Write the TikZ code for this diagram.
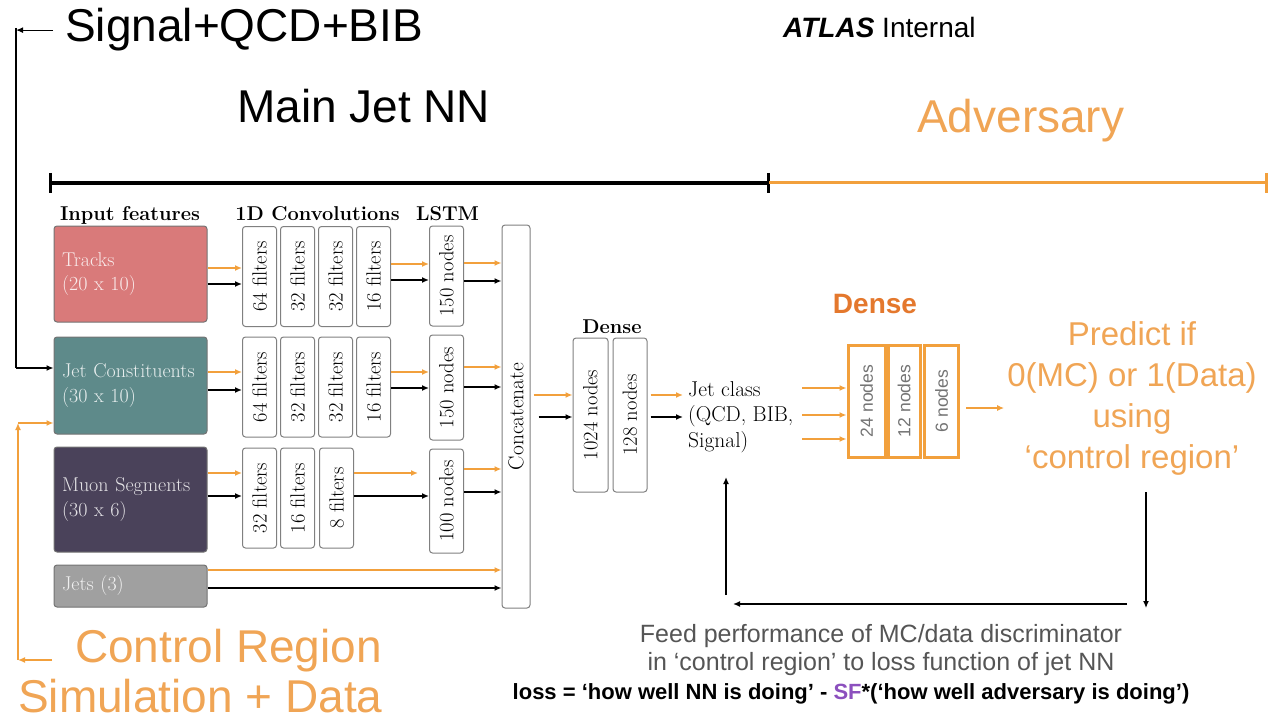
\documentclass[tikz,border=0pt]{standalone}
\usepackage{fontspec}
\newfontfamily\hel{Liberation Sans}
\usetikzlibrary{arrows.meta}
\definecolor{trkred}{RGB}{217,122,122}
\definecolor{jcteal}{RGB}{94,138,138}
\definecolor{muviolet}{RGB}{74,66,90}
\definecolor{jetgray}{RGB}{160,160,160}
\definecolor{advor}{RGB}{242,160,60}
\definecolor{advtext}{RGB}{240,165,85}
\definecolor{advhead}{RGB}{228,120,45}
\definecolor{feedgray}{RGB}{85,85,85}
\definecolor{sfpurple}{RGB}{140,80,190}
\newcommand\vlab[1]{\rotatebox{90}{#1}}
\begin{document}
\begin{tikzpicture}[x=1pt,y=-1pt,
  big/.style={font=\hel\fontsize{46}{50}\selectfont, inner sep=0pt, anchor=base west},
  hdr/.style={font=\bfseries\fontsize{20}{24}\selectfont, inner sep=0pt, anchor=base},
  inbox/.style={draw=black!55, line width=1pt, rounded corners=3pt, text width=137pt,
    align=left, inner xsep=8pt, inner ysep=0pt, text=white, text opacity=0.85,
    font=\fontsize{20}{24.5}\selectfont},
  layer/.style={draw=black!50, fill=white, line width=1pt, rounded corners=3pt,
    minimum width=34pt, inner sep=0pt, font=\fontsize{20.5}{22}\selectfont},
  advl/.style={draw=advor, line width=3pt, minimum width=34pt, minimum height=112pt,
    inner sep=0pt, text=black!55, font=\hel\fontsize{17.5}{20}\selectfont},
  barr/.style={draw=black, line width=1.6pt, -{Latex[length=7pt,width=6pt]}},
  oarr/.style={draw=advor, line width=1.4pt, -{Latex[length=7pt,width=6pt]}},
]
\useasboundingbox (0,0) rectangle (1276,722);

% titles
\node[big] (sig) at (65,42) {Signal+QCD+BIB};
\node[big] (mainnn) at (237,123) {Main Jet NN};
\node[big, text=advtext] (adv) at (917,133) {Adversary};
\node[big, text=advtext] (ctrl) at (75,662) {Control Region};
\node[big, text=advtext] (simdata) at (18,712) {Simulation + Data};
\node[anchor=base west, inner sep=0pt, font=\hel\fontsize{28}{30}\selectfont] (atlas) at (783,38) {\textbf{\textit{ATLAS}} Internal};

% span bars
\draw[line width=4pt] (50,183) -- (768,183);
\draw[line width=3pt] (50,173) -- (50,193);
\draw[line width=3pt] (768,173) -- (768,193);
\draw[advor, line width=3pt] (769,183) -- (1266,183);
\draw[advor, line width=3pt] (1266,173) -- (1266,193);

% column headers
\node[hdr] (hin) at (130,220) {Input features};
\node[hdr] (hconv) at (317.5,220) {1D Convolutions};
\node[hdr] (hlstm) at (447.5,220) {LSTM};
\node[hdr] (hdense) at (612,333) {Dense};
\node[anchor=base, inner sep=0pt, text=advhead, font=\hel\bfseries\fontsize{28}{30}\selectfont] (hadv) at (875,313) {Dense};

% input boxes
\node[inbox, fill=trkred, minimum height=96pt] (trk) at (130.5,274) {Tracks\\(20 x 10)};
\node[inbox, fill=jcteal, minimum height=97pt] (jc) at (130.5,385.5) {Jet Constituents\\(30 x 10)};
\node[inbox, fill=muviolet, minimum height=105pt] (mu) at (130.5,499.5) {Muon Segments\\(30 x 6)};
\node[inbox, fill=jetgray, minimum height=42pt] (jets) at (130.5,586) {Jets (3)};

% convolution layers
\node[layer, minimum height=100pt] (c11) at (259.5,276.5) {\vlab{64 filters}};
\node[layer, minimum height=100pt] (c12) at (297.5,276.5) {\vlab{32 filters}};
\node[layer, minimum height=100pt] (c13) at (335.5,276.5) {\vlab{32 filters}};
\node[layer, minimum height=100pt] (c14) at (373.5,276.5) {\vlab{16 filters}};
\node[layer, minimum height=100pt] (c21) at (259.5,387) {\vlab{64 filters}};
\node[layer, minimum height=100pt] (c22) at (297.5,387) {\vlab{32 filters}};
\node[layer, minimum height=100pt] (c23) at (335.5,387) {\vlab{32 filters}};
\node[layer, minimum height=100pt] (c24) at (373.5,387) {\vlab{16 filters}};
\node[layer, minimum height=100pt] (c31) at (259.5,498) {\vlab{32 filters}};
\node[layer, minimum height=100pt] (c32) at (297.5,498) {\vlab{16 filters}};
\node[layer, minimum height=100pt] (c33) at (336.5,498) {\vlab{8 filters}};

% LSTM layers
\node[layer, minimum height=100pt] (l1) at (446.5,276) {\vlab{150 nodes}};
\node[layer, minimum height=105pt] (l2) at (446.5,387.5) {\vlab{150 nodes}};
\node[layer, minimum height=104pt] (l3) at (446.5,501) {\vlab{100 nodes}};

% concatenation and dense layers
\node[layer, minimum width=28pt, minimum height=383pt, font=\fontsize{21.5}{22}\selectfont] (cat) at (516,416.5) {\vlab{Concatenate}};
\node[layer, minimum width=35pt, minimum height=154pt] (d1) at (590.5,415) {\vlab{1024 nodes}};
\node[layer, minimum height=154pt] (d2) at (630,415) {\vlab{128 nodes}};

\node[anchor=west, align=left, inner sep=0pt, font=\fontsize{21.5}{25.5}\selectfont] (jcls) at (688,417) {Jet class\\(QCD, BIB,\\Signal)};

% adversary layers
\node[advl, minimum width=37pt] (a1) at (866.5,401) {\vlab{24 nodes}};
\node[advl, minimum width=32pt] (a2) at (904,401) {\vlab{12 nodes}};
\node[advl] (a3) at (941.5,401) {\vlab{6 nodes}};

\node[align=center, inner sep=0pt, text=advtext, font=\hel\fontsize{33}{41}\selectfont] (pred) at (1132,398) {Predict if\\0(MC) or 1(Data)\\using\\‘control region’};

% feedback text
\node[align=center, inner sep=0pt, text=feedgray, font=\hel\fontsize{25}{28}\selectfont] (feed) at (881,650) {Feed performance of MC/data discriminator\\in ‘control region’ to loss function of jet NN};
\node[anchor=base, inner sep=0pt, font=\hel\bfseries\fontsize{22}{26}\selectfont] (loss) at (851,699) {loss = ‘how well NN is doing’ - \textcolor{sfpurple}{SF}*(‘how well adversary is doing’)};

% track branch
\draw[oarr] (trk.east |- 0,268) -- (c11.west |- 0,268);
\draw[barr] (trk.east |- 0,284) -- (c11.west |- 0,284);
\draw[oarr] (c14.east |- 0,264) -- (l1.west |- 0,264);
\draw[barr] (c14.east |- 0,280) -- (l1.west |- 0,280);
\draw[oarr] (l1.east |- 0,263) -- (cat.west |- 0,263);
\draw[barr] (l1.east |- 0,281) -- (cat.west |- 0,281);
% constituent branch
\draw[oarr] (jc.east |- 0,372) -- (c21.west |- 0,372);
\draw[barr] (jc.east |- 0,390) -- (c21.west |- 0,390);
\draw[oarr] (c24.east |- 0,372) -- (l2.west |- 0,372);
\draw[barr] (c24.east |- 0,388) -- (l2.west |- 0,388);
\draw[oarr] (l2.east |- 0,367) -- (cat.west |- 0,367);
\draw[barr] (l2.east |- 0,387) -- (cat.west |- 0,387);
% muon branch
\draw[oarr] (mu.east |- 0,473) -- (c31.west |- 0,473);
\draw[barr] (mu.east |- 0,496) -- (c31.west |- 0,496);
\draw[oarr, shorten >=11pt] (c33.east |- 0,473) -- (l3.west |- 0,473);
\draw[barr] (c33.east |- 0,496) -- (l3.west |- 0,496);
\draw[oarr] (l3.east |- 0,469) -- (cat.west |- 0,469);
\draw[barr] (l3.east |- 0,492) -- (cat.west |- 0,492);
% jet branch
\draw[oarr] (jets.east |- 0,570) -- (cat.west |- 0,570);
\draw[barr] (jets.east |- 0,588) -- (cat.west |- 0,588);
% dense part
\draw[oarr, shorten <=3pt] (cat.east |- 0,395) -- (d1.west |- 0,395);
\draw[barr, shorten <=8pt] (cat.east |- 0,417) -- (d1.west |- 0,417);
\draw[oarr, shorten <=3pt, shorten >=5pt] (d2.east |- 0,395) -- (jcls.west |- 0,395);
\draw[barr, shorten <=3pt, shorten >=5pt] (d2.east |- 0,417) -- (jcls.west |- 0,417);

% adversary inputs and output
\coordinate (advin) at (802,415);
\draw[oarr] (advin |- 0,388) -- (a1.west |- 0,388);
\draw[oarr] (advin) -- (a1.west |- advin);
\draw[oarr] (advin |- 0,439) -- (a1.west |- 0,439);
\draw[oarr, shorten <=6pt, shorten >=3pt] (a3.east |- 0,408) -- (pred.west |- 0,408);

% feedback loop
\coordinate (fbR) at (1146,492);
\coordinate (fbRb) at (1146,608);
\coordinate (fbBr) at (1127,604);
\coordinate (fbBl) at (733,604);
\coordinate (fbL) at (726,595);
\coordinate (fbLt) at (726,477);
\draw[barr, line width=1.2pt] (fbR) -- (fbRb);
\draw[barr, line width=1.4pt] (fbBr) -- (fbBl);
\draw[barr, line width=1.4pt] (fbL) -- (fbLt);

% signal sample feed
\coordinate (bk1) at (16,28);
\coordinate (bk2) at (16,368);
\draw[barr, line width=1.2pt] (sig.west) ++(-12,0) -- (sig.west -| bk1);
\draw[line width=1.2pt] (bk1) -- (bk2);
\draw[barr, line width=1.2pt] (bk2) -- (jc.west |- bk2);

% control region feed
\coordinate (or1) at (52,660);
\coordinate (or2) at (18,660);
\coordinate (or3) at (18,423);
\draw[oarr] (or1) -- (or2);
\draw[oarr] (or2) -- (or3);
\draw[oarr] (or3) -- (jc.west |- or3);
\end{tikzpicture}
\end{document}
